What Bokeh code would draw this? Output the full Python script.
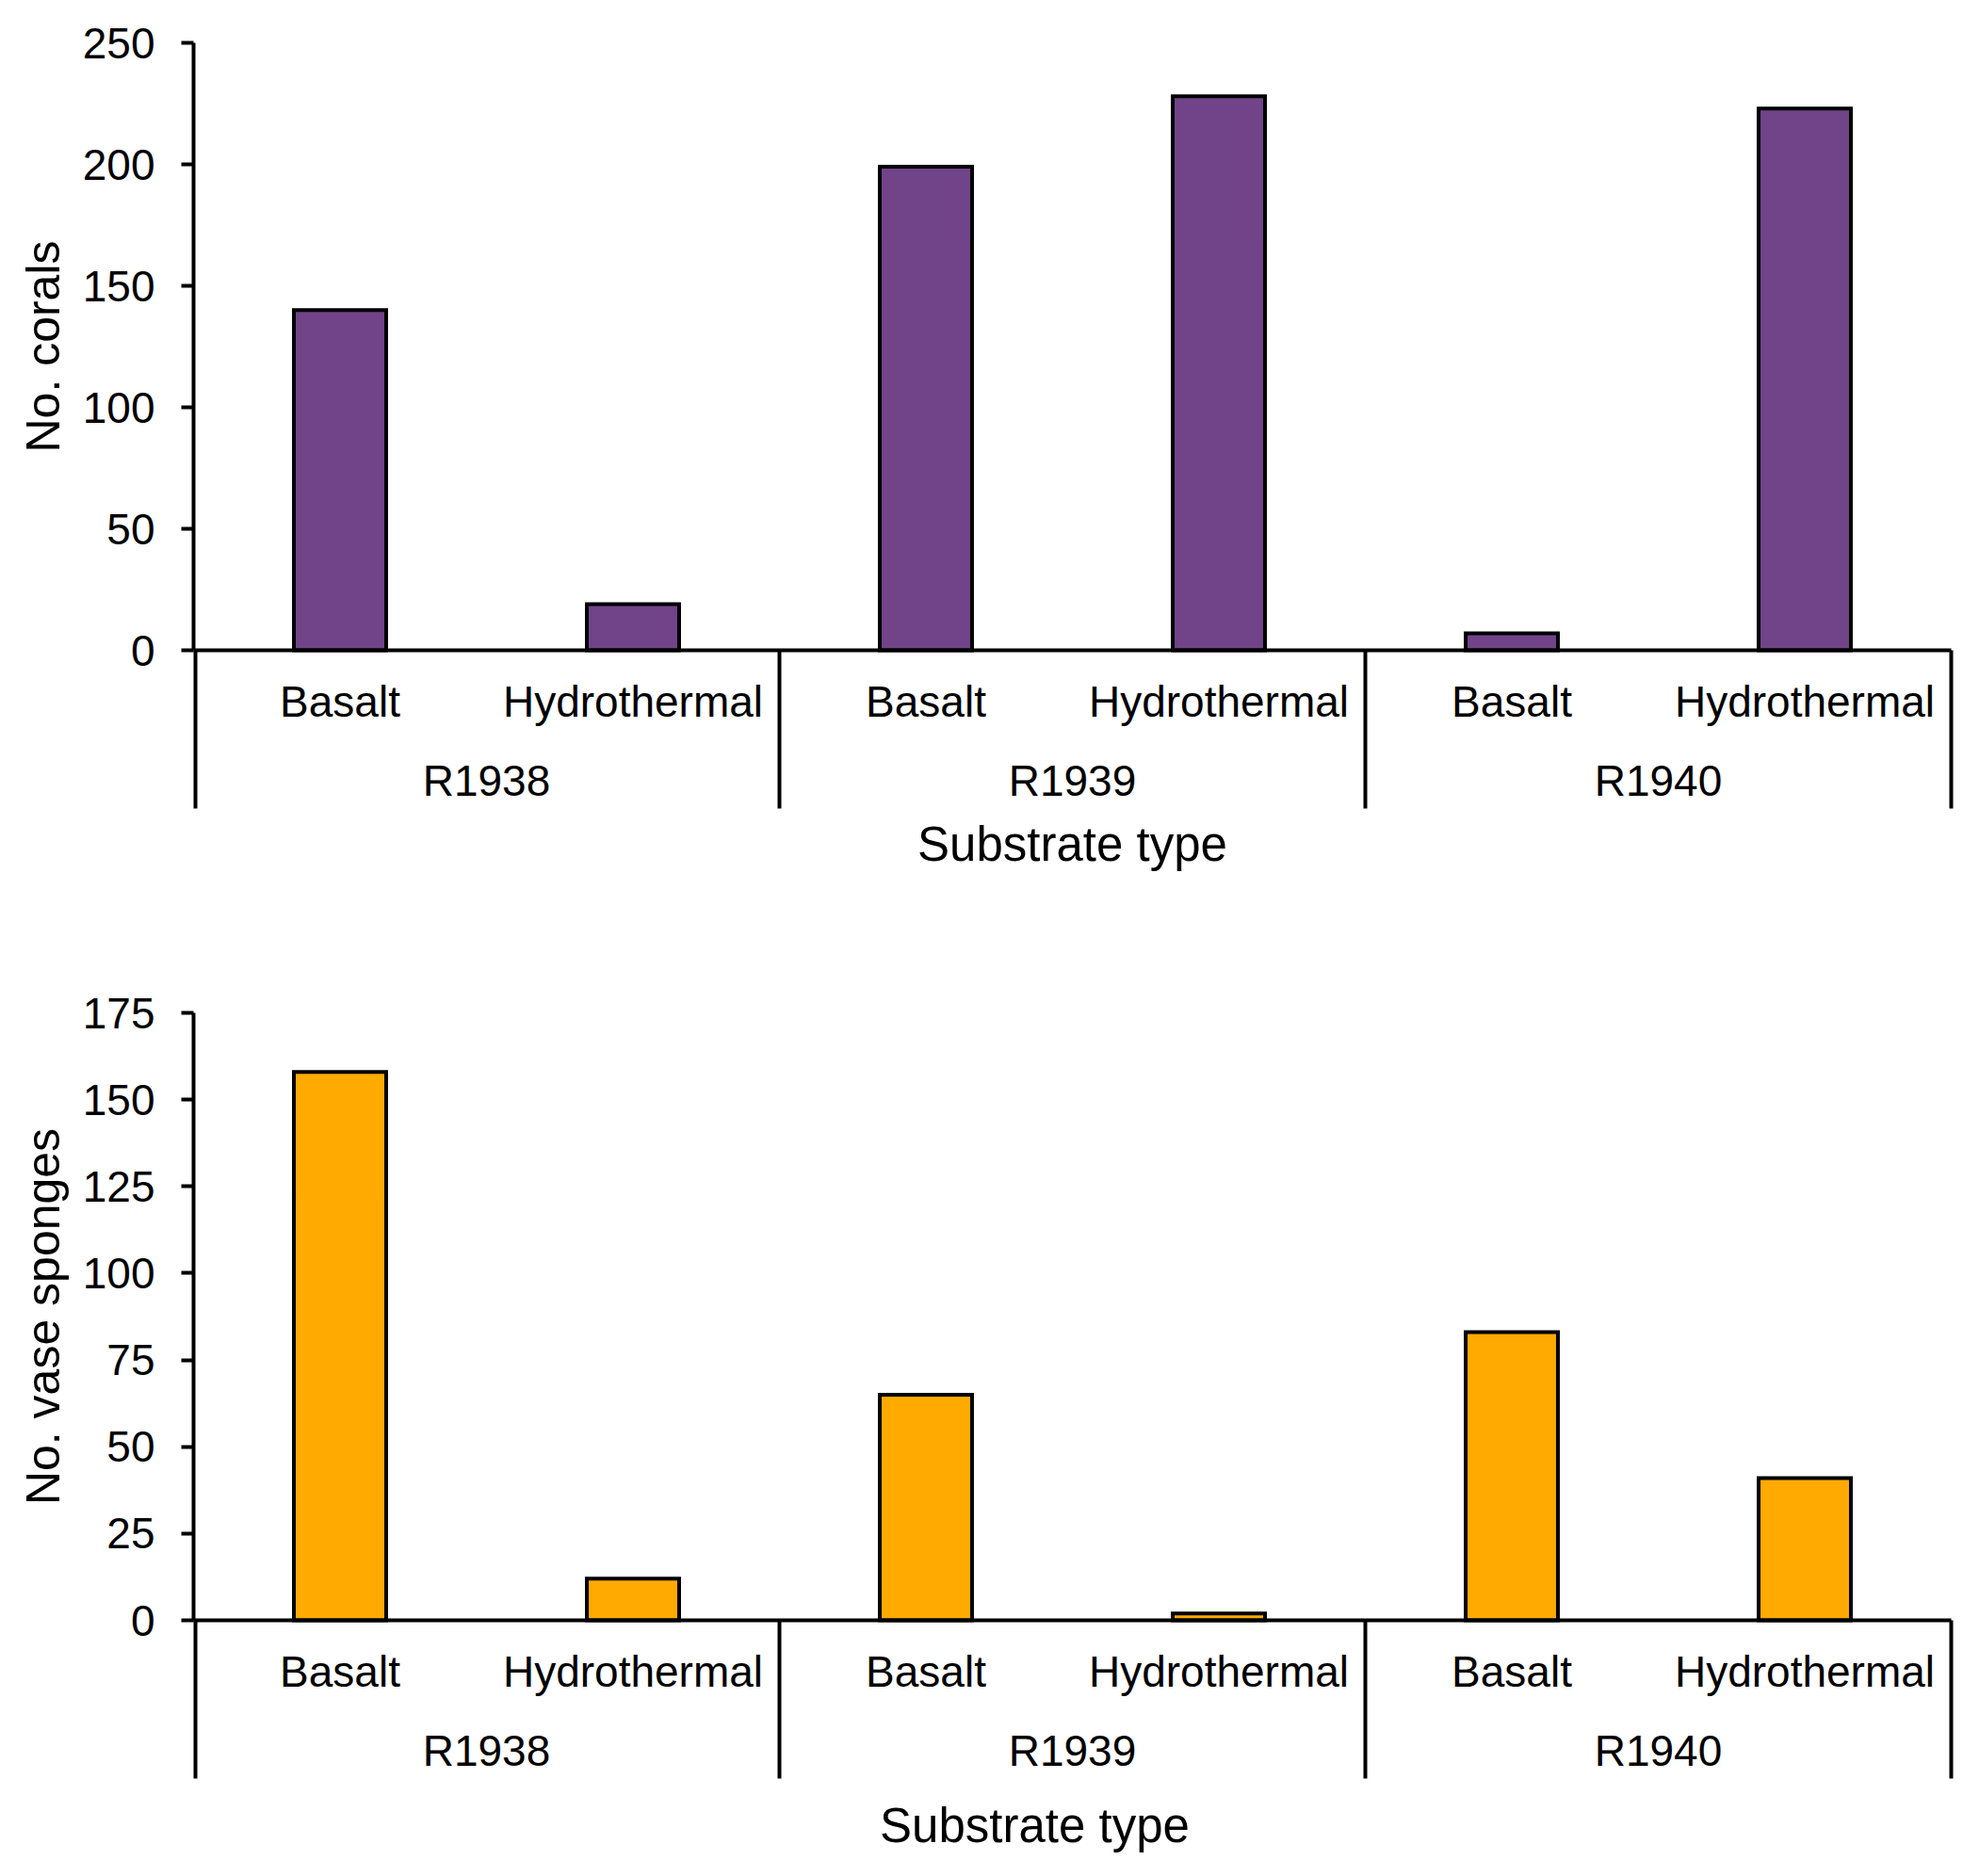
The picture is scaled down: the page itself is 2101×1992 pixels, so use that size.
import math
from bokeh.plotting import figure
from bokeh.models import Range1d, FixedTicker, ColumnDataSource
from bokeh.layouts import column, row
from bokeh.core.properties import value
from bokeh.embed import file_html
from bokeh.resources import INLINE

# ---------------- data ----------------
groups = ["R1938", "R1939", "R1940"]
substrates = ["Basalt", "Hydrothermal"]
corals = [140, 19, 199, 228, 7, 223]
sponges = [158, 12, 65, 2, 83, 41]
coral_ticks = [0, 50, 100, 150, 200, 250]
sponge_ticks = [0, 25, 50, 75, 100, 125, 150, 175]
x_title = "Substrate type"
coral_label = "No. corals"
sponge_label = "No. vase sponges"

# ---------------- style ----------------
FONT = "Liberation Sans"
PURPLE = "#71448A"
ORANGE = "#FFAA00"
FRAME_W = 1866      # px from axis line to right end of baseline
PAD = 8             # px right padding so the end line is not clipped
ABOVE = 645         # px from 0 to top tick
BELOW = 255         # px of frame below the zero line
TITLE_W = 80        # width of the strip holding the y title
TITLE_X = 45        # centre of the y title, px from page left
LEFT = 205          # px from page left to the axis line
LW = 4


def make_chart(values, ticks, color, ylabel, border_top, title_dx, title_dy):
    n = len(groups) * len(substrates)
    kx = FRAME_W / n
    pad_u = PAD / kx
    ymax = ticks[-1]
    ky = ABOVE / ymax
    yr = Range1d(-BELOW / ky, ymax)

    p = figure(frame_width=FRAME_W + PAD, frame_height=ABOVE + BELOW,
               x_range=Range1d(0, n + pad_u), y_range=yr,
               x_axis_type=None, output_backend="svg", toolbar_location=None,
               min_border_left=LEFT - TITLE_W, min_border_right=10,
               min_border_top=border_top, min_border_bottom=0)
    p.outline_line_color = None
    p.ygrid.grid_line_color = None
    p.background_fill_color = "white"
    p.border_fill_color = "white"

    ax = p.yaxis[0]
    ax.bounds = (0, ymax)
    ax.ticker = FixedTicker(ticks=ticks)
    ax.minor_tick_line_color = None
    ax.major_tick_in = 0
    ax.major_tick_out = 13
    ax.axis_line_width = LW
    ax.axis_line_color = "black"
    ax.major_tick_line_width = LW
    ax.major_tick_line_color = "black"
    ax.major_label_text_font = FONT
    ax.major_label_text_font_size = "46px"
    ax.major_label_text_color = "black"
    ax.major_label_standoff = 28

    xs = [i + 0.5 for i in range(n)]
    cats = [s for g in groups for s in substrates]
    src = ColumnDataSource(dict(x=xs, top=values, cat=cats))

    p.vbar(x="x", top="top", bottom=0, width=0.315, source=src,
           fill_color=color, line_color="black", line_width=LW, line_join="miter")

    # baseline and group separators
    p.segment(x0=[0], y0=[0], x1=[n], y1=[0], line_color="black", line_width=LW)
    sep_x = [i * len(substrates) for i in range(len(groups) + 1)]
    sep_w = [LW * 2 if x == 0 else LW for x in sep_x]   # first one is half clipped at the frame edge
    p.segment(x0=sep_x, y0=[0] * len(sep_x), x1=sep_x,
              y1=[-168 / ky] * len(sep_x), line_color="black", line_width=sep_w)

    # category labels
    p.text(x="x", y=0, text="cat", source=src, text_font=value(FONT),
           text_font_size="46px", text_align="center",
           text_baseline="alphabetic", y_offset=54, text_color="black")
    gx = [i * len(substrates) + len(substrates) / 2 for i in range(len(groups))]
    p.text(x=gx, y=[0] * len(gx), text=groups, text_font=value(FONT),
           text_font_size="46px", text_align="center",
           text_baseline="alphabetic", y_offset=138, text_color="black")
    p.text(x=[n / 2], y=[0], text=[x_title], text_font=value(FONT),
           text_font_size="51px", text_align="center",
           text_baseline="alphabetic", x_offset=title_dx, y_offset=title_dy,
           text_color="black")

    # y title strip
    t = figure(frame_width=TITLE_W, frame_height=ABOVE + BELOW,
               x_range=Range1d(0, TITLE_W), y_range=yr,
               x_axis_type=None, y_axis_type=None,
               output_backend="svg", toolbar_location=None,
               min_border_left=0, min_border_right=0,
               min_border_top=border_top, min_border_bottom=0)
    t.outline_line_color = None
    t.background_fill_color = "white"
    t.border_fill_color = "white"
    t.text(x=[TITLE_X], y=[ymax / 2], text=[ylabel], angle=math.pi / 2,
           text_font=value(FONT), text_font_size="50px", text_align="center",
           text_baseline="middle", text_color="black")
    return row(t, p)


r1 = make_chart(corals, coral_ticks, PURPLE, coral_label, 45, 0, 206)
r2 = make_chart(sponges, sponge_ticks, ORANGE, sponge_label, 130, -40, 218)

layout = column(r1, r2)
open("out.html", "w").write(file_html(layout, INLINE))
